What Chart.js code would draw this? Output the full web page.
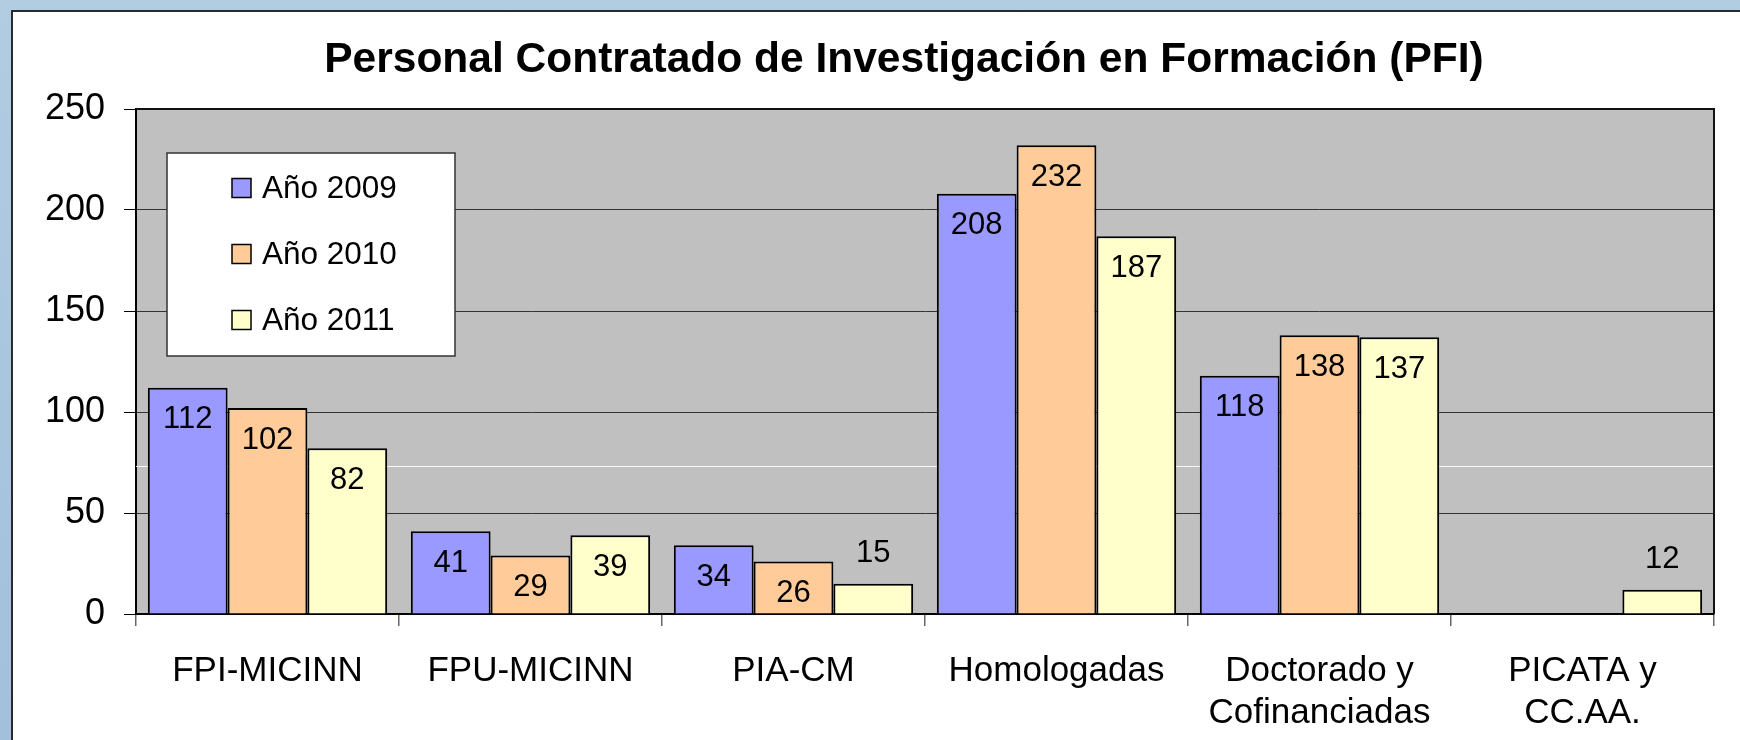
<!DOCTYPE html>
<html>
<head>
<meta charset="utf-8">
<title>Personal Contratado de Investigación en Formación (PFI)</title>
<script src="https://cdn.jsdelivr.net/npm/chart.js@4"></script>
<style>
  html, body { margin: 0; padding: 0; width: 1740px; height: 740px; overflow: hidden; }
  body { position: relative; background: linear-gradient(#b2cce1, #a2c0dc); }
  #panel { position: absolute; left: 11px; top: 10px; width: 1760px; height: 760px; background: #fff; border: 2px solid #2b2b2b; }
  #wrap { position: absolute; left: 0; top: 0; width: 1740px; height: 740px; }
</style>
</head>
<body>
<div id="panel"></div>
<div id="wrap"><canvas id="pfiChart" width="1740" height="740"></canvas></div>
<script>
// datos
const categories = ["FPI-MICINN", "FPU-MICINN", "PIA-CM", "Homologadas", ["Doctorado y", "Cofinanciadas"], ["PICATA y", "CC.AA."]];
const seriesNames = ["Año 2009", "Año 2010", "Año 2011"];
const values2009 = [112, 41, 34, 208, 118, null];
const values2010 = [102, 29, 26, 232, 138, null];
const values2011 = [82, 39, 15, 187, 137, 12];
const yTicks = { min: 0, max: 250, step: 50 };

const colors = ["#9999ff", "#ffcc99", "#ffffcc"];

Chart.defaults.font.family = "'Liberation Sans', Arial, sans-serif";
Chart.defaults.color = "#000";

// fondo gris del area de trazado
const plotBackground = {
    id: "plotBackground",
    afterLayout(chart) {
        // el titulo va centrado un poco a la derecha del lienzo
        if (chart.titleBlock) {
            chart.titleBlock.left = 94;
        }
    },
    beforeDraw(chart) {
        const { ctx, chartArea: a } = chart;
        ctx.save();
        ctx.fillStyle = "#c0c0c0";
        ctx.fillRect(a.left, a.top, a.right - a.left, a.bottom - a.top);
        ctx.restore();
    },
    beforeDatasetsDraw(chart) {
        // linea clara que aparece en la imagen original
        const { ctx, chartArea: a, scales } = chart;
        const y = Math.round(scales.y.getPixelForValue(73.5)) + 0.5;
        ctx.save();
        ctx.strokeStyle = "rgba(255,255,255,0.9)";
        ctx.lineWidth = 1;
        ctx.beginPath();
        ctx.moveTo(a.left, y);
        ctx.lineTo(a.right, y);
        ctx.stroke();
        ctx.restore();
    }
};

// marco superior y derecho
const plotFrame = {
    id: "plotFrame",
    afterDatasetsDraw(chart) {
        const { ctx, chartArea: a } = chart;
        ctx.save();
        ctx.strokeStyle = "#111";
        ctx.lineWidth = 2;
        ctx.beginPath();
        ctx.moveTo(a.left, a.top);
        ctx.lineTo(a.right, a.top);
        ctx.lineTo(a.right, a.bottom);
        ctx.stroke();
        ctx.restore();
    }
};

// etiquetas de valor: dentro del extremo, o encima si la barra es baja
const valueLabels = {
    id: "valueLabels",
    afterDatasetsDraw(chart) {
        const { ctx } = chart;
        ctx.save();
        ctx.font = "31px 'Liberation Sans', Arial, sans-serif";
        ctx.fillStyle = "#000";
        ctx.textAlign = "center";
        ctx.textBaseline = "middle";
        chart.data.datasets.forEach((ds, i) => {
            const meta = chart.getDatasetMeta(i);
            meta.data.forEach((bar, j) => {
                const v = ds.data[j];
                if (v === null || v === undefined) return;
                const y = v < 20 ? bar.y - 30 : bar.y + 32;
                ctx.fillText(String(v), bar.x, y);
            });
        });
        ctx.restore();
    }
};

// leyenda en recuadro blanco dentro del area
const boxLegend = {
    id: "boxLegend",
    afterDraw(chart) {
        const { ctx } = chart;
        const box = { x: 167, y: 153, w: 288, h: 203 };
        ctx.save();
        ctx.fillStyle = "#fff";
        ctx.fillRect(box.x, box.y, box.w, box.h);
        ctx.strokeStyle = "#333";
        ctx.lineWidth = 1.5;
        ctx.strokeRect(box.x, box.y, box.w, box.h);
        ctx.font = "31.5px 'Liberation Sans', Arial, sans-serif";
        ctx.textBaseline = "middle";
        ctx.textAlign = "left";
        chart.data.datasets.forEach((ds, i) => {
            const cy = 188 + i * 66;
            ctx.fillStyle = ds.backgroundColor;
            ctx.fillRect(232, cy - 9.5, 19, 19);
            ctx.strokeStyle = "#000";
            ctx.lineWidth = 1.5;
            ctx.strokeRect(232, cy - 9.5, 19, 19);
            ctx.fillStyle = "#000";
            ctx.fillText(ds.label, 262, cy + 1);
        });
        ctx.restore();
    }
};

const ctx = document.getElementById("pfiChart").getContext("2d");
new Chart(ctx, {
    type: "bar",
    data: {
        labels: categories,
        datasets: [
            { label: seriesNames[0], data: values2009, backgroundColor: colors[0], borderColor: "#000", borderWidth: 2 },
            { label: seriesNames[1], data: values2010, backgroundColor: colors[1], borderColor: "#000", borderWidth: 2 },
            { label: seriesNames[2], data: values2011, backgroundColor: colors[2], borderColor: "#000", borderWidth: 2 },
        ],
    },
    options: {
        responsive: false,
        animation: false,
        devicePixelRatio: 1,
        categoryPercentage: 0.91,
        barPercentage: 1,
        layout: { padding: { left: 20, right: 26, top: 0, bottom: 0 } },
        plugins: {
            legend: { display: false },
            tooltip: { enabled: false },
            title: {
                display: true,
                text: "Personal Contratado de Investigación en Formación (PFI)",
                color: "#000",
                font: { size: 42.5, weight: "bold", lineHeight: 1.2 },
                padding: { top: 35, bottom: 23 },
            },
        },
        scales: {
            x: {
                offset: true,
                grid: { offset: true, drawOnChartArea: false, tickLength: 12, color: "#666", lineWidth: 1.5 },
                border: { color: "#000", width: 2 },
                ticks: { color: "#000", font: { size: 35, lineHeight: 1.2 }, padding: 24, maxRotation: 0, autoSkip: false },
                afterFit(scale) { scale.height = 126; },
            },
            y: {
                min: yTicks.min,
                max: yTicks.max,
                grid: { color: "#333", lineWidth: 1, tickLength: 12, tickColor: "#000" },
                border: { color: "#000", width: 2 },
                ticks: { stepSize: yTicks.step, color: "#000", font: { size: 36 }, padding: 19 },
                afterFit(scale) { scale.width = 116; },
            },
        },
    },
    plugins: [plotBackground, plotFrame, valueLabels, boxLegend],
});
</script>
</body>
</html>
